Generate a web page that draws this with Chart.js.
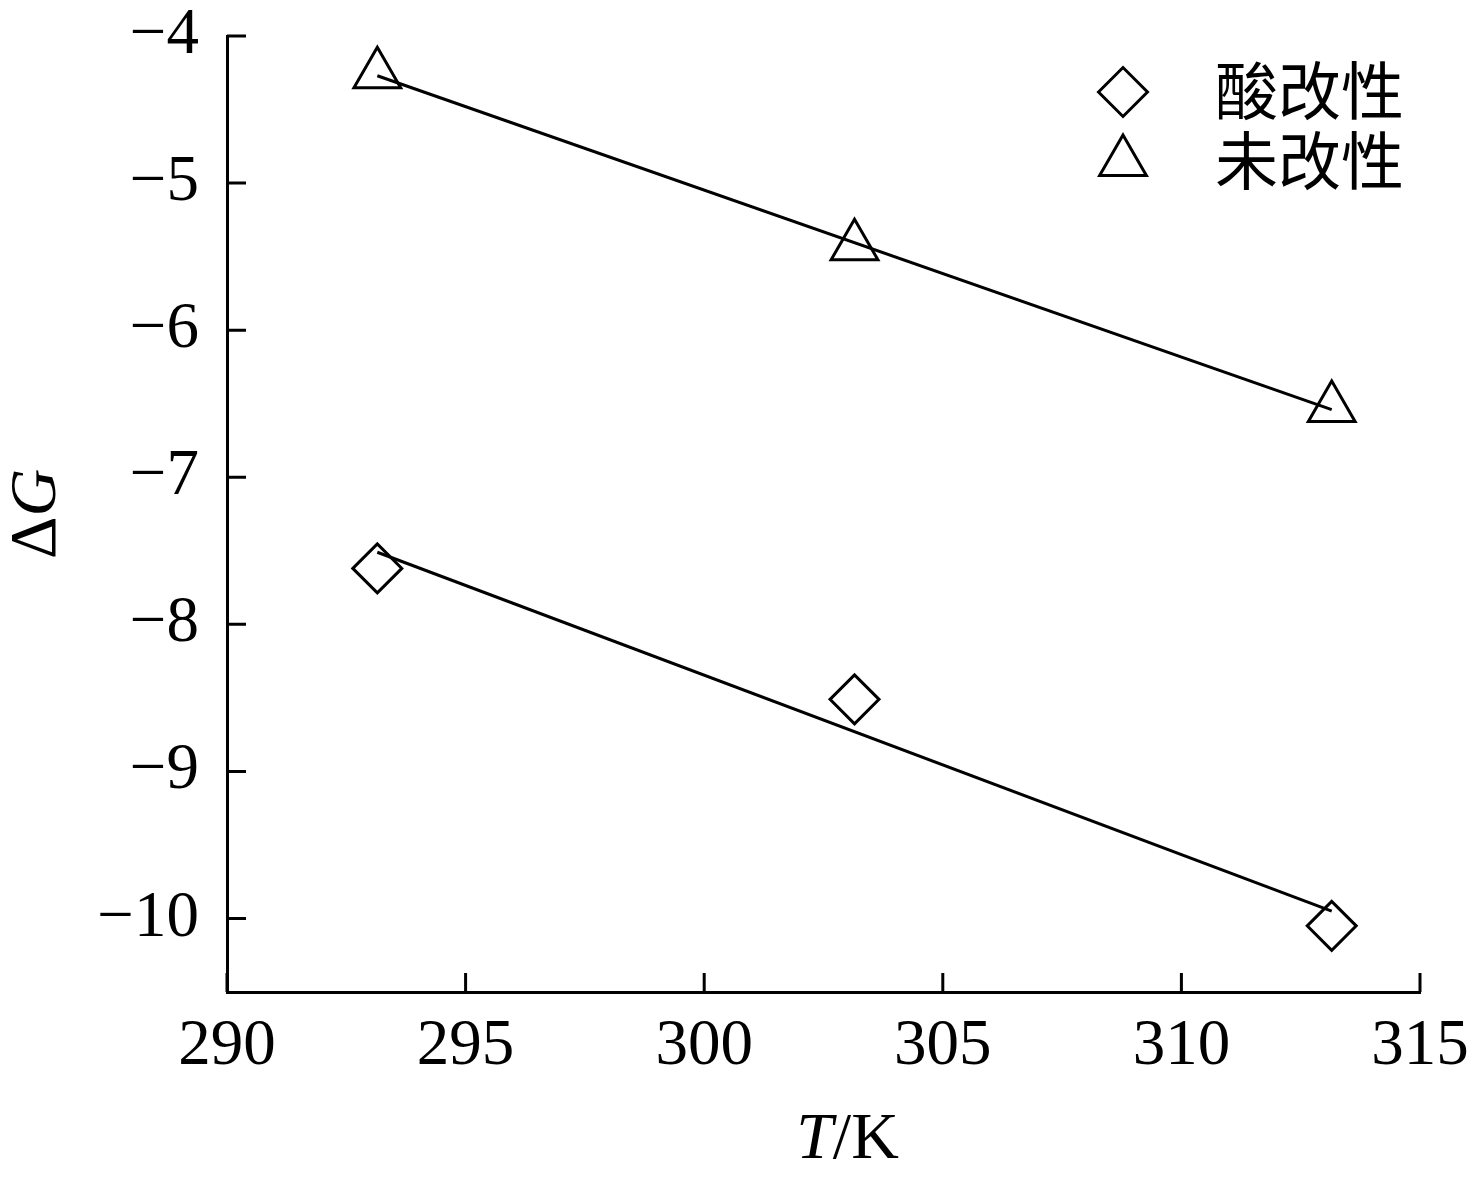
<!DOCTYPE html>
<html lang="zh">
<head>
<meta charset="UTF-8">
<title>ΔG - T</title>
<script src="https://cdn.jsdelivr.net/npm/chart.js"></script>
<style>
  html, body { margin: 0; padding: 0; background: #fff; }
</style>
</head>
<body>
<canvas id="dgChart" width="1472" height="1180"></canvas>
<script>
// data
const temps = [293.15, 303.15, 313.15];
const acidDG = [-7.62, -8.51, -10.05];
const rawDG = [-4.26, -5.43, -6.53];
// end points of the fitted lines
const fitT = [293.15, 313.15];
const acidFit = [-7.51, -9.95];
const rawFit = [-4.27, -6.54];
const xTicks = [290, 295, 300, 305, 310, 315];
const yTicks = [-10, -9, -8, -7, -6, -5, -4];
const seriesNames = ['酸改性', '未改性'];

const SERIF = '"Liberation Serif", "Times New Roman", serif';
const CJK = '"Noto Sans CJK SC", sans-serif';
const none = 'rgba(0,0,0,0)';

const toPoints = (xs, ys) => xs.map((x, i) => ({ x: x, y: ys[i] }));
const fmt = v => (v < 0 ? '\u2212' + Math.abs(v) : String(v));

// inward tick marks
const innerTicks = {
    id: 'innerTicks',
    afterDatasetsDraw(chart) {
        const ctx = chart.ctx;
        const { left, bottom } = chart.chartArea;
        const len = 19;
        ctx.save();
        ctx.strokeStyle = '#000';
        ctx.lineWidth = 3;
        ctx.beginPath();
        xTicks.forEach(v => {
            const px = chart.scales.x.getPixelForValue(v);
            ctx.moveTo(px, bottom);
            ctx.lineTo(px, bottom - len);
        });
        yTicks.forEach(v => {
            const py = chart.scales.y.getPixelForValue(v);
            ctx.moveTo(left, py);
            ctx.lineTo(left + len, py);
        });
        ctx.stroke();
        ctx.restore();
    }
};

// axis titles with italic symbols
const axisTitles = {
    id: 'axisTitles',
    afterDraw(chart) {
        const ctx = chart.ctx;
        const { left, right, top, bottom } = chart.chartArea;
        ctx.save();
        ctx.fillStyle = '#000';
        ctx.textBaseline = 'alphabetic';

        // x title: T/K
        const italic = 'italic 66px ' + SERIF;
        const upright = '66px ' + SERIF;
        ctx.font = italic;
        const wT = ctx.measureText('T').width;
        ctx.font = upright;
        const wK = ctx.measureText('/K').width;
        let x0 = (left + right) / 2 + 24 - (wT + wK) / 2;
        const yb = 1158;
        ctx.font = italic;
        ctx.fillText('T', x0, yb);
        ctx.font = upright;
        ctx.fillText('/K', x0 + wT, yb);

        // y title: ΔG rotated
        ctx.translate(55, (top + bottom) / 2);
        ctx.rotate(-Math.PI / 2);
        ctx.font = upright;
        const wD = ctx.measureText('\u0394').width;
        ctx.font = italic;
        const wG = ctx.measureText('G').width;
        const sx = -(wD + wG) / 2;
        ctx.font = upright;
        ctx.fillText('\u0394', sx, 0);
        ctx.font = italic;
        ctx.fillText('G', sx + wD, 0);
        ctx.restore();
    }
};

// legend in the upper right corner
const cornerLegend = {
    id: 'cornerLegend',
    afterDraw(chart) {
        const ctx = chart.ctx;
        const { right, top } = chart.chartArea;
        const rows = [
            { ds: chart.data.datasets[0], y: top + 56 },
            { ds: chart.data.datasets[1], y: top + 126 }
        ];
        ctx.save();
        rows.forEach((row, i) => {
            const ds = row.ds;
            ctx.strokeStyle = '#000';
            ctx.fillStyle = none;
            ctx.lineWidth = ds.borderWidth;
            Chart.helpers.drawPoint(ctx, {
                pointStyle: ds.pointStyle,
                radius: ds.pointRadius,
                rotation: 0,
                borderWidth: ds.borderWidth
            }, right - 297, row.y);
            ctx.fillStyle = '#000';
            ctx.font = '63px ' + CJK;
            ctx.textBaseline = 'middle';
            ctx.textAlign = 'left';
            ctx.fillText(seriesNames[i], right - 205, row.y - 2);
        });
        ctx.restore();
    }
};

const ctx = document.getElementById('dgChart').getContext('2d');
new Chart(ctx, {
    type: 'scatter',
    data: {
        datasets: [
            {
                label: seriesNames[0],
                data: toPoints(temps, acidDG),
                pointStyle: 'rectRot',
                pointRadius: 24.5,
                pointHoverRadius: 24.5,
                borderWidth: 3,
                borderColor: '#000',
                backgroundColor: none,
                showLine: false
            },
            {
                label: seriesNames[1],
                data: toPoints(temps, rawDG),
                pointStyle: 'triangle',
                pointRadius: 27,
                pointHoverRadius: 27,
                borderWidth: 3,
                borderColor: '#000',
                backgroundColor: none,
                showLine: false
            },
            {
                label: 'fit-acid',
                data: toPoints(fitT, acidFit),
                showLine: true,
                pointRadius: 0,
                borderWidth: 3,
                borderColor: '#000',
                backgroundColor: none
            },
            {
                label: 'fit-raw',
                data: toPoints(fitT, rawFit),
                showLine: true,
                pointRadius: 0,
                borderWidth: 3,
                borderColor: '#000',
                backgroundColor: none
            }
        ]
    },
    options: {
        responsive: false,
        animation: false,
        devicePixelRatio: 1,
        layout: { padding: { left: 0, top: 36, right: 52, bottom: 0 } },
        plugins: {
            legend: { display: false },
            tooltip: { enabled: false }
        },
        scales: {
            x: {
                type: 'linear',
                min: 290,
                max: 315,
                afterBuildTicks: scale => { scale.ticks = xTicks.map(v => ({ value: v })); },
                afterFit: scale => { scale.height = 188; scale.paddingLeft = 0; scale.paddingRight = 0; },
                grid: { display: true, drawOnChartArea: false, drawTicks: false },
                border: { display: true, color: '#000', width: 3 },
                ticks: {
                    color: '#000',
                    font: { family: SERIF, size: 65 },
                    padding: 16,
                    maxRotation: 0,
                    callback: v => fmt(v)
                }
            },
            y: {
                type: 'linear',
                min: -10.5,
                max: -4,
                afterBuildTicks: scale => { scale.ticks = yTicks.map(v => ({ value: v })); },
                afterFit: scale => { scale.width = 227; scale.paddingTop = 0; scale.paddingBottom = 0; },
                grid: { display: true, drawOnChartArea: false, drawTicks: false },
                border: { display: true, color: '#000', width: 3 },
                ticks: {
                    color: '#000',
                    font: { family: SERIF, size: 65 },
                    padding: 28,
                    callback: v => fmt(v)
                }
            }
        }
    },
    plugins: [innerTicks, axisTitles, cornerLegend]
});
</script>
</body>
</html>
